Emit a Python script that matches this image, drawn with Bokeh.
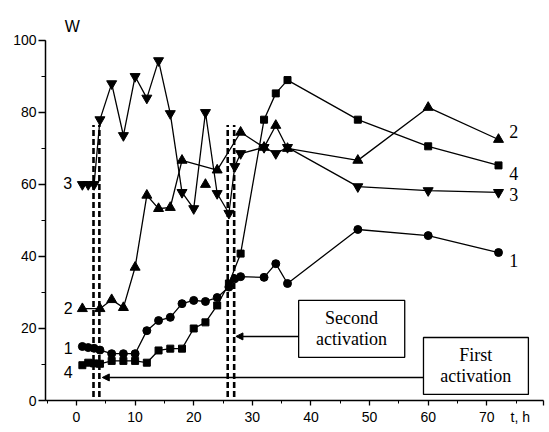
from bokeh.plotting import figure
from bokeh.models import Range1d, Arrow, NormalHead, FixedTicker
from bokeh.core.properties import value
from bokeh.embed import file_html
from bokeh.resources import INLINE

# ---- data ----
t_s1 = [1, 2, 3, 4, 6, 8, 10, 12, 14, 16, 18, 20, 22, 24, 26, 27, 28, 32, 34, 36, 48, 60, 72]
w_s1 = [15, 14.7, 14.5, 14, 13, 13, 13, 19.4, 22.2, 23.1, 26.9, 27.8, 27.5, 28.6, 31.5, 33.8, 34.4, 34.2, 38, 32.5, 47.5, 45.8, 41.1]

t_s2 = [1, 4, 6, 8, 10, 12, 14, 16, 18, 24, 28, 32, 34, 36, 48, 60, 72]
w_s2 = [25.5, 25.5, 28, 25.8, 37, 57, 53.3, 53.6, 66.7, 64, 74.5, 70.3, 76.4, 70, 66.7, 81.4, 72.5]
t_s2_extra = [22]
w_s2_extra = [60]

t_s3 = [1, 2, 3, 4, 6, 8, 10, 12, 14, 16, 18, 20, 22, 24, 26, 27, 28, 32, 34, 36, 48, 60, 72]
w_s3 = [60, 60, 60, 78, 88, 73.6, 90, 84, 94.4, 79.7, 57.8, 53.3, 80, 57.5, 52, 65, 68.6, 70.3, 68.6, 70.3, 59.4, 58.3, 57.8]

t_s4 = [1, 2, 3, 4, 6, 8, 10, 12, 14, 16, 18, 20, 22, 24, 26, 28, 32, 34, 36, 48, 60, 72]
w_s4 = [9.8, 10.5, 10.3, 10.2, 11, 11, 11, 10.5, 13.9, 14.4, 14.4, 20, 21.7, 26.4, 32.5, 40.8, 78, 85.3, 89, 78, 70.6, 65.3]

first_activation = [2.9, 3.9]
second_activation = [25.8, 26.9]

x_ticks = [0, 10, 20, 30, 40, 50, 60, 70]
x_axis_end = 79.7
x_unit_label = "t, h"
y_ticks = [0, 20, 40, 60, 80, 100]

p = figure(width=549, height=432, output_backend="svg", toolbar_location=None,
           x_range=Range1d(-5.29, 80.7), y_range=Range1d(0, 111.1),
           min_border_left=45, min_border_right=0, min_border_top=0, min_border_bottom=32)
p.outline_line_color = None
p.xgrid.grid_line_color = None
p.ygrid.grid_line_color = None
p.background_fill_color = "white"

for ax in (p.xaxis[0], p.yaxis[0]):
    ax.axis_line_color = "black"
    ax.axis_line_width = 1.5
    ax.major_tick_line_color = "black"
    ax.minor_tick_line_color = "black"
    ax.major_tick_line_width = 1.3
    ax.major_tick_in = 0
    ax.minor_tick_in = 0
    ax.major_label_text_font = "Liberation Sans"
    ax.major_label_text_font_size = "14px"
    ax.major_label_text_color = "black"

p.xaxis.bounds = (-5.29, x_axis_end)
p.yaxis.bounds = (0, 100)
p.xaxis.ticker = FixedTicker(ticks=x_ticks + [x_axis_end], minor_ticks=list(range(-5, 80, 5)))
p.xaxis.major_label_overrides = {x_axis_end: x_unit_label + "\u00a0" * 5}
p.yaxis.ticker = FixedTicker(ticks=y_ticks, minor_ticks=list(range(0, 101, 10)))
p.xaxis.major_tick_out = 5
p.xaxis.minor_tick_out = 3
p.xaxis.major_label_standoff = 3
p.yaxis.major_tick_out = 7
p.yaxis.minor_tick_out = 4
p.yaxis.major_label_standoff = 2

# activation dashed lines
for t in first_activation + second_activation:
    p.line([t, t], [1, 76.5], line_color="black", line_width=2.6, line_dash="6 3")

# series
lc = "black"
p.line(t_s3, w_s3, line_color=lc, line_width=1.3)
p.scatter(t_s3, w_s3, marker="inverted_triangle", size=10, color=lc)
p.line(t_s2, w_s2, line_color=lc, line_width=1.3)
p.scatter(t_s2, w_s2, marker="triangle", size=10, color=lc)
p.scatter(t_s2_extra, w_s2_extra, marker="triangle", size=10, color=lc)
p.line(t_s4, w_s4, line_color=lc, line_width=1.3)
p.scatter(t_s4, w_s4, marker="square", size=7, color=lc)
p.line(t_s1, w_s1, line_color=lc, line_width=1.3)
p.scatter(t_s1, w_s1, marker="circle", size=8, color=lc)

# series labels
sans = value("Liberation Sans")
serif = value("Liberation Serif")
p.text(x=[-1.5, -1.4, -1.4, -1.4], y=[60.3, 25.8, 14.7, 7.8], text=["3", "2", "1", "4"],
       text_font=sans, text_font_size="16px", text_align="center", text_baseline="middle", text_color="black")
p.text(x=[74.6, 74.6, 74.6, 74.6], y=[74.7, 63, 57.2, 38.9], text=["2", "4", "3", "1"],
       text_font=serif, text_font_size="18px", text_align="center", text_baseline="middle", text_color="black")

# y-axis title inside the extended frame
p.text(x=[-0.7], y=[104], text=["W"], text_font=sans, text_font_size="16px",
       text_align="center", text_baseline="middle", text_color="black")

# boxes
p.quad(left=[37.9, 59.2], right=[56, 77.1], bottom=[12, 1.7], top=[27.8, 17.5],
       fill_color="white", line_color="black", line_width=1.3)
p.text(x=[46.9, 46.9, 68.1, 68.1], y=[23, 17.2, 12.5, 6.9],
       text=["Second", "activation", "First", "activation"],
       text_font=serif, text_font_size="18px", text_align="center", text_baseline="middle", text_color="black")

# arrows
p.add_layout(Arrow(x_start=59.2, y_start=6.4, x_end=4.4, y_end=6.4, line_width=1.5, line_color="black",
                   end=NormalHead(size=7, fill_color="black", line_color="black")))
p.add_layout(Arrow(x_start=37.9, y_start=17.8, x_end=27.2, y_end=17.8, line_width=1.5, line_color="black",
                   end=NormalHead(size=7, fill_color="black", line_color="black")))

open("out.html", "w").write(file_html(p, INLINE))
